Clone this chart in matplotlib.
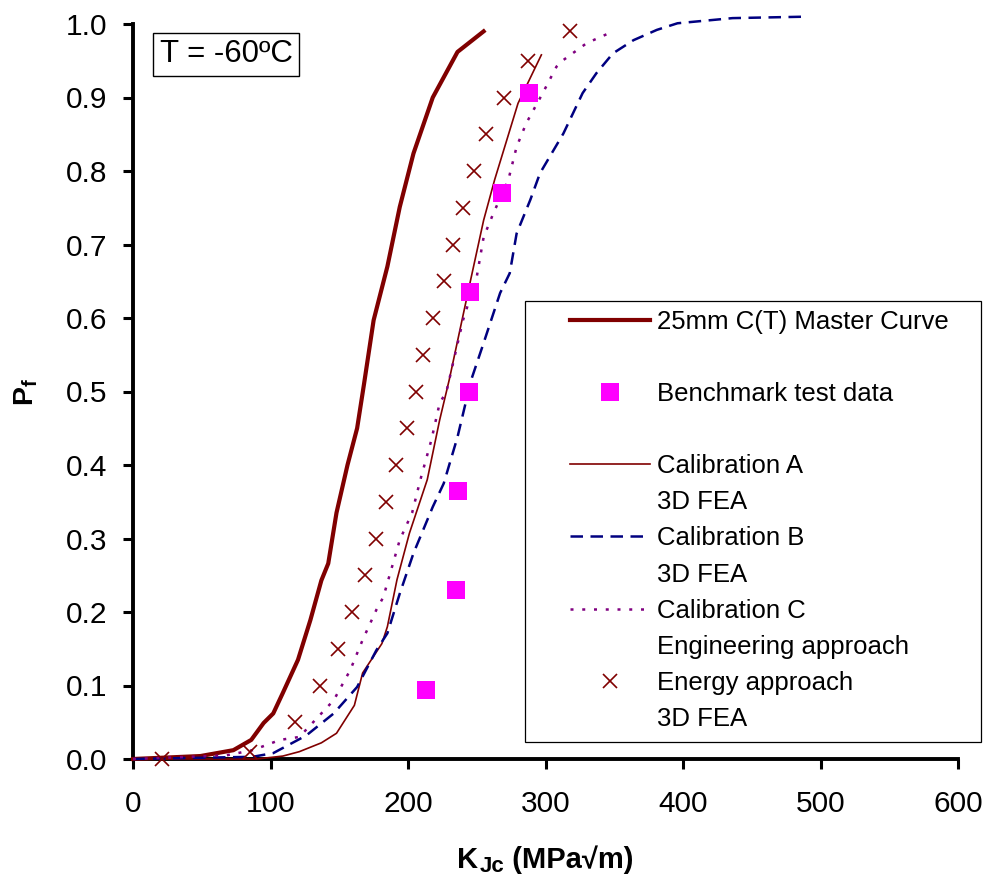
import matplotlib
matplotlib.use("Agg")
import matplotlib.pyplot as plt
from matplotlib.lines import Line2D
from matplotlib.patches import Rectangle

plt.rcParams['font.family'] = ['Liberation Sans', 'DejaVu Sans']
plt.rcParams['mathtext.fontset'] = 'custom'
plt.rcParams['mathtext.rm'] = 'Liberation Sans'
plt.rcParams['mathtext.bf'] = 'Liberation Sans:bold'
plt.rcParams['mathtext.it'] = 'Liberation Sans:italic'

# ---- data ----
master_k = [0, 49, 73, 86, 95, 102, 109, 120, 129, 137, 142, 148, 156, 163, 168, 175, 185, 194, 204, 218, 236, 255]
master_p = [0, 0.004, 0.012, 0.026, 0.049, 0.062, 0.09, 0.135, 0.189, 0.243, 0.266, 0.335, 0.40, 0.45, 0.51, 0.597, 0.67, 0.751, 0.824, 0.90, 0.962, 0.99]

bench_k = [213, 235, 236, 244, 245, 268, 288]
bench_p = [0.094, 0.230, 0.365, 0.500, 0.635, 0.770, 0.906]

calA_k = [0, 90, 109, 121, 137, 148, 161, 167, 181, 185, 192, 201, 214, 223, 230, 245, 255, 263, 280, 297]
calA_p = [0, 0, 0.004, 0.01, 0.022, 0.035, 0.073, 0.117, 0.157, 0.18, 0.244, 0.307, 0.38, 0.461, 0.516, 0.647, 0.733, 0.788, 0.892, 0.958]

calB_k = [0, 87, 102, 126, 146, 163, 177, 185, 194, 204, 218, 226, 236, 243, 246, 255, 267, 274, 279, 289, 296, 313, 327, 337, 349, 364, 381, 396, 436, 490]
calB_p = [0, 0.003, 0.008, 0.032, 0.062, 0.098, 0.148, 0.171, 0.225, 0.28, 0.343, 0.375, 0.438, 0.493, 0.516, 0.566, 0.634, 0.661, 0.715, 0.761, 0.797, 0.851, 0.906, 0.933, 0.96, 0.978, 0.992, 1.001, 1.008, 1.01]

calC_k = [0, 68, 87, 107, 121, 138, 146, 158, 167, 177, 182, 194, 203, 209, 217, 223, 228, 240, 250, 255, 262, 273, 279, 286, 298, 308, 313, 330, 348]
calC_p = [0, 0.005, 0.012, 0.026, 0.03, 0.064, 0.08, 0.121, 0.162, 0.203, 0.22, 0.298, 0.335, 0.38, 0.434, 0.484, 0.50, 0.597, 0.656, 0.71, 0.742, 0.788, 0.833, 0.865, 0.906, 0.942, 0.951, 0.974, 0.989]

energy_k = [21, 85, 118, 136, 149, 159, 169, 177, 184, 191, 199, 206, 211, 218, 226, 233, 240, 248, 257, 270, 287, 318]
energy_p = [0, 0.01, 0.05, 0.10, 0.15, 0.20, 0.25, 0.30, 0.35, 0.40, 0.45, 0.50, 0.55, 0.60, 0.65, 0.70, 0.75, 0.80, 0.85, 0.90, 0.95, 0.99]

x_ticks = [0, 100, 200, 300, 400, 500, 600]
y_ticks = [0.0, 0.1, 0.2, 0.3, 0.4, 0.5, 0.6, 0.7, 0.8, 0.9, 1.0]

label_master = "25mm C(T) Master Curve"
label_bench = "Benchmark test data"
label_calA = ["Calibration A", "3D FEA"]
label_calB = ["Calibration B", "3D FEA"]
label_calC = ["Calibration C", "Engineering approach"]
label_energy = ["Energy approach", "3D FEA"]
temp_text = "T = -60ºC"
xlabel_main, xlabel_sub, xlabel_unit = "K", "Jc", " (MPa√m)"

# ---- figure ----
W, H = 990, 885
fig = plt.figure(figsize=(W / 100, H / 100), dpi=100)
L, R, T, B = 133, 958, 24, 759
ax = fig.add_axes([L / W, 1 - B / H, (R - L) / W, (B - T) / H])

DARKRED = '#800000'
h_master, = ax.plot(master_k, master_p, color=DARKRED, lw=3.0, clip_on=False, zorder=3)
h_calA, = ax.plot(calA_k, calA_p, color=DARKRED, lw=1.2, clip_on=False, zorder=3)
h_calB, = ax.plot(calB_k, calB_p, color='#000080', lw=1.8, ls=(0, (5, 3)), clip_on=False, zorder=3)
h_calC, = ax.plot(calC_k, calC_p, color='#800080', lw=1.8, ls=(0, (1.2, 3.5)), clip_on=False, zorder=3)
h_energy, = ax.plot(energy_k, energy_p, ls='none', marker='x', ms=9.5, mew=1.2,
                    color=DARKRED, clip_on=False, zorder=4)
h_bench, = ax.plot(bench_k, bench_p, ls='none', marker='s', ms=13.5, mew=0,
                   color='#FF00FF', clip_on=False, zorder=5)

ax.set_xlim(0, 600)
ax.set_ylim(0, 1.0)
ax.set_xticks(x_ticks)
ax.set_yticks(y_ticks)
ax.set_xticklabels([f"{v:d}" for v in x_ticks])
ax.set_yticklabels([f"{v:.1f}" for v in y_ticks])
for s in ['top', 'right']:
    ax.spines[s].set_visible(False)
for s in ['left', 'bottom']:
    ax.spines[s].set_linewidth(2.8)
ax.tick_params(direction='out', length=7.5, width=2.2, labelsize=21.5)
ax.tick_params(axis='y', pad=11)
ax.tick_params(axis='x', pad=15)

# y label
ax.set_ylabel(r"$\mathbf{P_f}$", fontsize=20.5, fontweight='bold')
ax.yaxis.set_label_coords(-0.113, 0.5)

# x label built from pieces (larger subscript like the reference)
base_y = 1 - 868 / H
t1 = fig.text(457 / W, base_y, xlabel_main, fontsize=21, fontweight='bold',
              ha='left', va='baseline')
t2 = ax.annotate(xlabel_sub, xy=(1, base_y), xycoords=(t1, 'figure fraction'),
                 xytext=(1, -3), textcoords='offset points',
                 fontsize=16, fontweight='bold', ha='left', va='baseline',
                 annotation_clip=False)
t3 = ax.annotate(xlabel_unit, xy=(1, base_y), xycoords=(t2, 'figure fraction'),
                 fontsize=21, fontweight='bold', ha='left', va='baseline',
                 annotation_clip=False)

ax.text((226 - L) / (R - L), (B - 54.5) / (B - T), temp_text, transform=ax.transAxes,
        fontsize=22.5, ha='center', va='center',
        bbox=dict(boxstyle='square,pad=0.2', fc='white', ec='black', lw=1.0))

# legend frame
lx0, lx1, ly0, ly1 = 525, 981, 742, 301
frame = Rectangle(((lx0 - L) / (R - L), (B - ly0) / (B - T)),
                  (lx1 - lx0) / (R - L), (ly0 - ly1) / (B - T),
                  transform=ax.transAxes, fc='white', ec='black', lw=0.9,
                  clip_on=False, zorder=6)
ax.add_patch(frame)

blank = Line2D([], [], ls='none')
handles = [h_master, blank, h_bench, blank,
           h_calA, blank, h_calB, blank, h_calC, blank, h_energy, blank]
labels = [label_master, " ", label_bench, " ",
          label_calA[0], label_calA[1], label_calB[0], label_calB[1],
          label_calC[0], label_calC[1], label_energy[0], label_energy[1]]
leg = ax.legend(handles, labels, loc='upper left',
                bbox_to_anchor=((570 - L) / (R - L), (B - 310) / (B - T)),
                frameon=False, fontsize=18.5, handlelength=3.1, handletextpad=0.3,
                labelspacing=0.47, borderpad=0, borderaxespad=0, numpoints=1)
leg.set_zorder(7)

fig.savefig("out.png", dpi=100)
